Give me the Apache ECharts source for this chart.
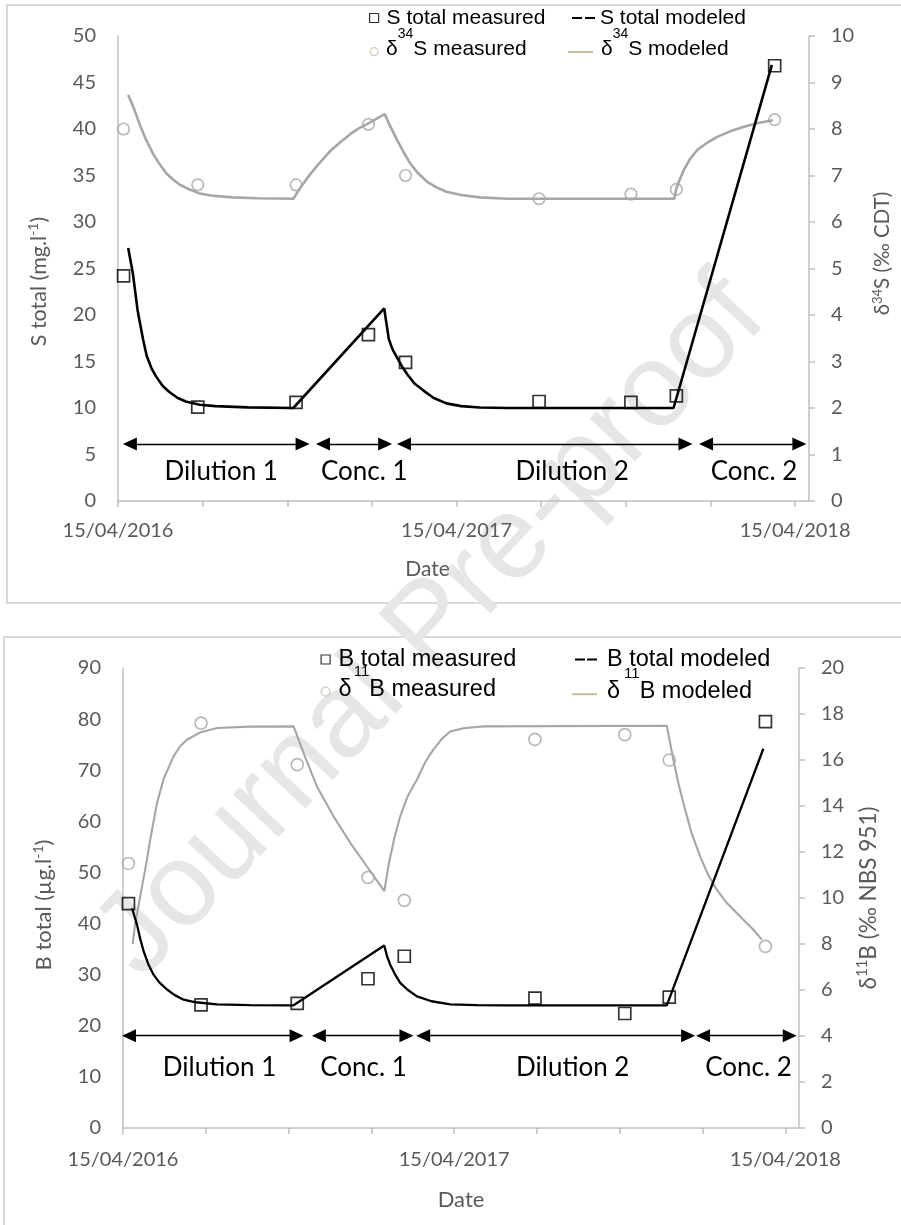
<!DOCTYPE html>
<html><head><meta charset="utf-8">
<script src="https://cdn.jsdelivr.net/npm/echarts@6/dist/echarts.min.js"></script>
<style>html,body{margin:0;padding:0;background:#fff}#c{width:901px;height:1225px}</style>
</head><body><div id="c"></div><script>
// ---------- DATA ----------
const originDate = '2016-04-15';
const sampleDates = ['2016-04-21','2016-07-10','2016-10-24','2017-01-10','2017-02-19','2017-07-13','2017-10-20','2017-12-08','2018-03-24'];
const sTotalMeasured = [24.2, 10.1, 10.6, 17.9, 14.9, 10.7, 10.6, 11.3, 46.8];
const d34SMeasured  = [8.0, 6.8, 6.8, 8.1, 7.0, 6.5, 6.6, 6.7, 8.2];
const bTotalMeasured = [43.9, 24.1, 24.4, 29.2, 33.6, 25.4, 22.4, 25.6, 79.5];
const d11BMeasured  = [11.5, 17.6, 15.8, 10.9, 9.9, 16.9, 17.1, 16.0, 7.9];

// modeled curves: days since originDate, values
const sModelDays   = [11,16,21,23,27,31,36,41,48,55,64,73,88,105,140,189,287,292,296,301,306,312,320,329,340,354,370,390,420,599,705];
const sModelValues = [27.2,24.5,20.6,19.5,17.4,15.6,14.3,13.4,12.4,11.75,11.1,10.7,10.35,10.2,10.07,10.0,20.7,17.4,16.3,15.4,14.5,13.6,12.6,11.9,11.1,10.5,10.2,10.05,10.0,10.0,46.9];
const d34SModelDays   = [11,17,23,30,38,45,52,59,66,76,87,100,123,150,189,197,205,215,230,240,251,260,269,278,287.5,294,301,308,315,323,333,343,354,370,390,420,599.7,602,605,610,617,625,635,646,660,675,690,706];
const d34SModelValues = [8.73,8.45,8.12,7.78,7.46,7.24,7.05,6.92,6.81,6.71,6.62,6.57,6.53,6.51,6.5,6.75,6.97,7.22,7.55,7.72,7.9,8.02,8.11,8.21,8.32,8.04,7.76,7.5,7.26,7.06,6.87,6.75,6.65,6.58,6.53,6.5,6.5,6.72,6.88,7.12,7.36,7.56,7.7,7.83,7.95,8.05,8.13,8.19];
const bModelDays   = [10,15.4,19,22.7,28,33.7,40,48.5,57,66.8,80,103.6,140,188,287.9,291,294.5,300,305.5,314,323.9,340,360.6,390,420,599.3,705.7];
const bModelValues = [43.0,39.8,37.0,34.6,32.0,30.0,28.5,27.1,26.0,25.1,24.6,24.2,24.05,24.0,35.7,33.6,31.95,30.0,28.4,27.0,25.75,24.8,24.2,24.05,24.0,24.0,74.2];
const d11BModelDays   = [10.6,13.5,19,26.4,30,37.5,45,55.7,63,70.5,85,103.6,140,188,200,213.7,232,250.6,268.9,288,293,299,305.5,314,323.9,333,342,351,360.6,375,397,599.3,606.6,612,617.6,626,636,645,654.4,665,676.4,685,694.8,704];
const d11BModelValues = [8.0,8.9,10.07,11.67,12.54,14.13,15.2,16.16,16.6,16.88,17.2,17.39,17.45,17.46,16.2,14.85,13.55,12.39,11.37,10.3,11.5,12.6,13.55,14.45,15.14,15.9,16.45,16.9,17.24,17.38,17.46,17.49,16.0,15.0,14.13,12.9,11.81,11.0,10.36,9.8,9.35,9.0,8.62,8.19];

// periods (double-arrow spans between arrowhead centres, days since originDate)
const periodNames = ['Dilution 1','Conc. 1','Dilution 2','Conc. 2'];
const sPeriodStart = [12.8, 221, 308.3, 634];
const sPeriodEnd   = [199, 288, 611.8, 734.6];
const sPeriodLabelX = [111.3, 265.5, 489.7, 685.7];
const bPeriodStart = [6.6, 215.9, 330.8, 639.3];
const bPeriodEnd   = [191.3, 312.4, 622.8, 734.8];
const bPeriodLabelX = [106.4, 265, 495.6, 689.3];
const sArrowLevel = 6.13, sLabelLevel = 3.15;
const bArrowLevel = 18.06, bLabelLevel = 11.74;

// axis ticks
const xTickDays = [0, 91.25, 182.5, 273.75, 365, 456.25, 547.5, 638.75, 730];
const xTickLabelDays = [0, 365, 730];
const xTickLabels = ['15/04/2016', '15/04/2017', '15/04/2018'];

// ---------- BUILD ----------
const toDay = d => (Date.parse(d) - Date.parse(originDate)) / 86400000;
const sampleDays = sampleDates.map(toDay);
const pairs = (xs, ys) => xs.map((x, i) => [x, ys[i]]);

const GREY = '#595959', AXIS = '#bfbfbf', LINEGREY = '#a6a6a6', TAN = '#c4bd97';
const tickFont = {color: GREY, fontFamily: 'Lato', fontSize: 20};

function xAxis(gridIndex, margin, nameGap, namePad, nameSize) {
  return {
    type: 'value', gridIndex, min: 0, max: 745,
    axisLine: {show: true, onZero: false, lineStyle: {color: AXIS, width: 1.5}},
    axisTick: {show: true, customValues: xTickDays, length: 6, lineStyle: {color: AXIS, width: 1.5}},
    axisLabel: Object.assign({customValues: xTickLabelDays, margin,
      formatter: v => { const i = xTickLabelDays.indexOf(v); return i >= 0 ? xTickLabels[i] : ''; }}, tickFont),
    splitLine: {show: false},
    name: 'Date', nameLocation: 'middle', nameGap,
    nameTextStyle: {color: GREY, fontFamily: 'Lato', fontSize: nameSize, padding: namePad}
  };
}
function nameRich(fs) {
  return {
    a: {color: GREY, fontFamily: 'Lato', fontSize: fs, verticalAlign: 'bottom'},
    s: {color: GREY, fontFamily: 'Lato', fontSize: Math.round(fs * 0.65), verticalAlign: 'bottom', padding: [0, 0, Math.round(fs * 0.45), 0]}
  };
}
function yAxis(gridIndex, pos, max, interval, name, nameGap, fs, pad) {
  const right = pos === 'right';
  return {
    type: 'value', gridIndex, position: pos, min: 0, max, interval,
    axisLine: {show: true, lineStyle: {color: AXIS, width: 1.5}},
    axisTick: {show: right, length: 6, lineStyle: {color: AXIS, width: 1.5}},
    axisLabel: Object.assign({margin: 22}, tickFont),
    splitLine: {show: false},
    name, nameLocation: 'middle', nameGap, nameRotate: 90,
    nameTextStyle: {rich: nameRich(fs), padding: pad}
  };
}

function periodMarks(starts, ends, labelX, level, labelLevel) {
  return {
    markLine: {
      silent: true, animation: false,
      symbol: ['triangle', 'triangle'], symbolSize: [13, 14],
      lineStyle: {color: '#000', width: 1.3, type: 'solid'},
      label: {show: false},
      emphasis: {disabled: true},
      data: periodNames.map((p, i) => [{coord: [starts[i], level]}, {coord: [ends[i], level]}])
    },
    markPoint: {
      silent: true, animation: false,
      symbol: 'rect', symbolSize: 1, itemStyle: {color: 'rgba(0,0,0,0)'},
      label: {show: true, position: 'inside', formatter: '{b}', color: '#000', fontFamily: 'Lato', fontSize: 26},
      data: periodNames.map((p, i) => ({name: p, coord: [labelX[i], labelLevel]}))
    }
  };
}

function legendRich(fs, sfs, ptop, spadLeft) {
  return {
    t: {fontFamily: 'Liberation Sans', fontSize: fs, color: '#000', verticalAlign: 'bottom', padding: [ptop, 0, 0, 0]},
    s: {fontFamily: 'Liberation Sans', fontSize: sfs, color: '#000', verticalAlign: 'top', padding: [0, 0, 0, spadLeft]}
  };
}
function legend(name, left, top, icon, w, h, itemStyle, fs, pad, formatter, rich) {
  const l = {
    data: [name], left, top, icon, itemWidth: w, itemHeight: h, padding: 0, itemGap: 0,
    selectedMode: false, itemStyle,
    textStyle: {fontFamily: 'Liberation Sans', fontSize: fs, color: '#000', padding: pad}
  };
  if (formatter) { l.formatter = formatter; l.textStyle.rich = rich; }
  return l;
}
const sqStyle = {color: 'rgba(0,0,0,0)', borderColor: '#000', borderWidth: 1.2};
const circStyle = {color: 'rgba(0,0,0,0)', borderColor: '#c9be9b', borderWidth: 1.2};

const option = {
  animation: false,
  backgroundColor: '#fff',
  textStyle: {fontFamily: 'Lato'},
  grid: [
    {left: 118, top: 36, width: 698, height: 465, containLabel: false},
    {left: 123, top: 668, width: 676, height: 460, containLabel: false}
  ],
  xAxis: [xAxis(0, 20, 58, [0, 72, 0, 0], 21), xAxis(1, 22, 61, 0, 22)],
  yAxis: [
    yAxis(0, 'left', 50, 5, '{a|S total (mg.l}{s|-1}{a|)}', 68, 21.5, [0, 26, 0, 0]),
    yAxis(0, 'right', 10, 1, '{a|δ}{s|34}{a|S (‰ CDT)}', 62, 20.5, [0, 0, 0, 30]),
    yAxis(1, 'left', 90, 10, '{a|B total (µg.l}{s|-1}{a|)}', 68, 22, [0, 14, 0, 0]),
    yAxis(1, 'right', 20, 2, '{a|δ}{s|11}{a|B (‰ NBS 951)}', 50, 22.5, 0)
  ],
  legend: [
    legend('S total measured', 369, 7.5, 'rect', 9, 9, sqStyle, 21, [0, 0, 0, 3]),
    legend('S total modeled', 572, 7.5, 'path://M0,0H10V2H0Z M13,0H23V2H13Z', 23, 2, {color: '#000', borderWidth: 0}, 21, 0),
    legend('δ34S measured', 369.5, 26.7, 'circle', 8, 8, circStyle, 21, [0, 0, 17, 3],
      () => '{t|δ}{s|34}{t|S measured}', legendRich(21, 14, 12, 0)),
    legend('δ34S modeled', 568, 27, 'path://M0,0H25V2H0Z', 25, 2, {color: TAN, borderWidth: 0}, 21, [0, 0, 17, 3],
      () => '{t|δ}{s|34}{t|S modeled}', legendRich(21, 14, 12, 0)),
    legend('B total measured', 320.5, 647.5, 'rect', 9, 9, sqStyle, 23.5, [0, 0, 0, 3.5]),
    legend('B total modeled', 575, 647.5, 'path://M0,0H10V2H0Z M12,0H22V2H12Z', 22, 2, {color: '#000', borderWidth: 0}, 23.5, [0, 0, 0, 5]),
    legend('δ11B measured', 320.5, 664.2, 'circle', 9, 9, circStyle, 23.5, [0, 0, 18, 3.5],
      () => '{t|δ}{s|11}{t|B measured}', legendRich(23.5, 15, 13, 2)),
    legend('δ11B modeled', 572, 666.7, 'path://M0,0H25V2H0Z', 25, 2, {color: TAN, borderWidth: 0}, 23.5, [0, 0, 18, 5],
      () => '{t|δ}{s|11}{t|B modeled}', legendRich(23.5, 15, 13, 4))
  ],
  graphic: [
    {type: 'rect', z: -5, shape: {x: 7, y: 5, width: 902, height: 598}, style: {fill: 'none', stroke: '#d9d9d9', lineWidth: 2}},
    {type: 'rect', z: -5, shape: {x: 4, y: 637, width: 905, height: 600}, style: {fill: 'none', stroke: '#d9d9d9', lineWidth: 2}},
    {type: 'text', z: -4, x: 432, y: 628, rotation: 46.5 * Math.PI / 180,
      style: {text: 'Journal Pre-proof', font: '118px "Liberation Sans"', fill: '#e6e6e6', align: 'center', verticalAlign: 'middle'}}
  ],
  series: [
    Object.assign({name: 'S total modeled', type: 'line', xAxisIndex: 0, yAxisIndex: 0, data: pairs(sModelDays, sModelValues),
      symbol: 'none', lineStyle: {color: '#000', width: 2.6}, itemStyle: {color: '#000'}, z: 4},
      periodMarks(sPeriodStart, sPeriodEnd, sPeriodLabelX, sArrowLevel, sLabelLevel)),
    {name: 'δ34S modeled', type: 'line', xAxisIndex: 0, yAxisIndex: 1, data: pairs(d34SModelDays, d34SModelValues),
      symbol: 'none', lineStyle: {color: LINEGREY, width: 2.6}, itemStyle: {color: LINEGREY}, z: 3},
    {name: 'S total measured', type: 'scatter', xAxisIndex: 0, yAxisIndex: 0, data: pairs(sampleDays, sTotalMeasured),
      symbol: 'rect', symbolSize: 12, itemStyle: {color: 'rgba(0,0,0,0)', borderColor: '#000', borderWidth: 1.7}, z: 5},
    {name: 'δ34S measured', type: 'scatter', xAxisIndex: 0, yAxisIndex: 1, data: pairs(sampleDays, d34SMeasured),
      symbol: 'circle', symbolSize: 11.5, itemStyle: {color: 'rgba(0,0,0,0)', borderColor: LINEGREY, borderWidth: 1.7}, z: 5},

    Object.assign({name: 'B total modeled', type: 'line', xAxisIndex: 1, yAxisIndex: 2, data: pairs(bModelDays, bModelValues),
      symbol: 'none', lineStyle: {color: '#000', width: 2.3}, itemStyle: {color: '#000'}, z: 4},
      periodMarks(bPeriodStart, bPeriodEnd, bPeriodLabelX, bArrowLevel, bLabelLevel)),
    {name: 'δ11B modeled', type: 'line', xAxisIndex: 1, yAxisIndex: 3, data: pairs(d11BModelDays, d11BModelValues),
      symbol: 'none', lineStyle: {color: LINEGREY, width: 2.1}, itemStyle: {color: LINEGREY}, z: 3},
    {name: 'B total measured', type: 'scatter', xAxisIndex: 1, yAxisIndex: 2, data: pairs(sampleDays, bTotalMeasured),
      symbol: 'rect', symbolSize: 12, itemStyle: {color: 'rgba(0,0,0,0)', borderColor: '#000', borderWidth: 1.7}, z: 5},
    {name: 'δ11B measured', type: 'scatter', xAxisIndex: 1, yAxisIndex: 3, data: pairs(sampleDays, d11BMeasured),
      symbol: 'circle', symbolSize: 12, itemStyle: {color: 'rgba(0,0,0,0)', borderColor: LINEGREY, borderWidth: 1.7}, z: 5}
  ]
};
const chart = echarts.init(document.getElementById('c'), null, {renderer: 'canvas'});
chart.setOption(option);
</script></body></html>
